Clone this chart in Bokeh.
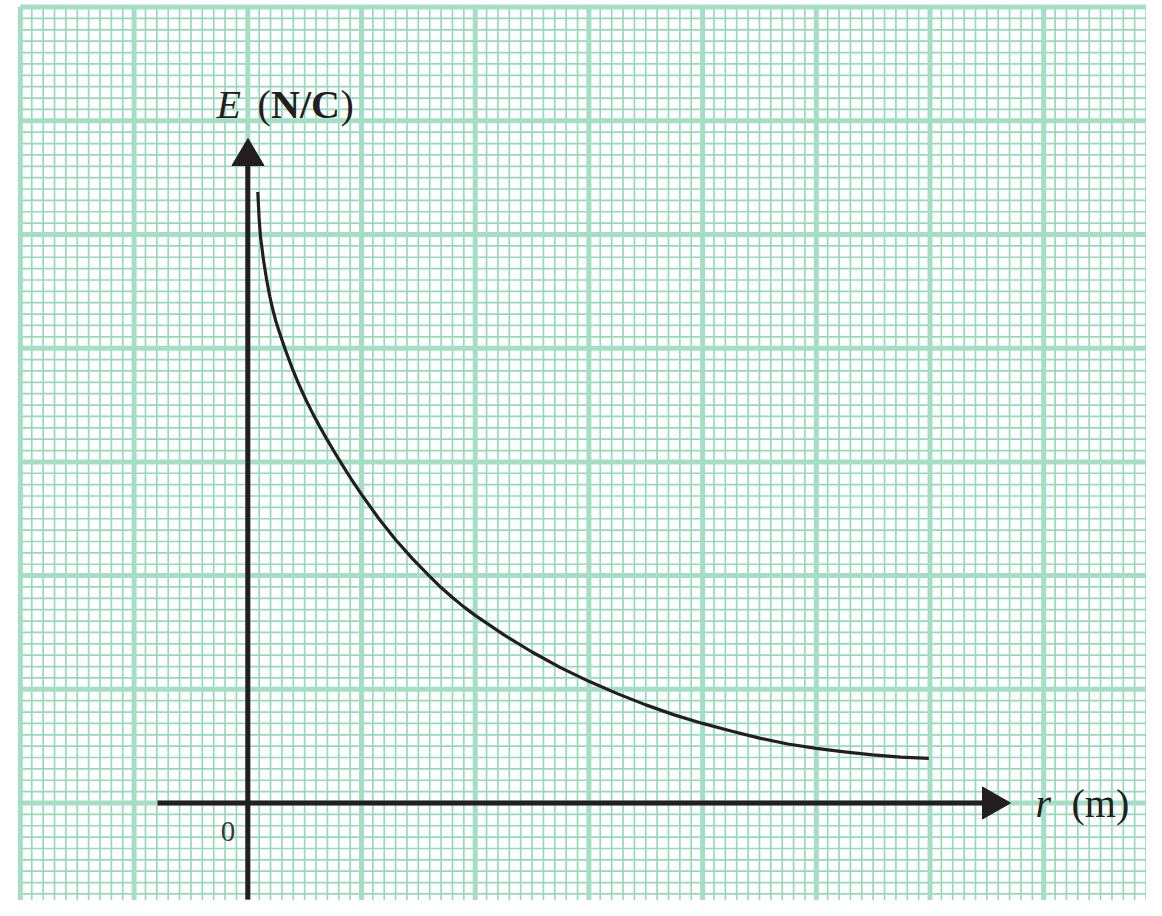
import numpy as np
from bokeh.plotting import figure
from bokeh.models import Range1d, Label
from bokeh.embed import file_html
from bokeh.resources import INLINE

# ---------------- data ----------------
r_m = [0.088, 0.0995, 0.111, 0.138, 0.166, 0.193, 0.2205, 0.247, 0.275, 0.303,
       0.330, 0.391, 0.4525, 0.514, 0.575, 0.636, 0.6975, 0.759, 0.820, 0.910,
       1.000, 1.150, 1.300, 1.450, 1.600, 1.700, 1.800, 1.900, 2.000, 2.250,
       2.500, 2.750, 3.000, 3.250, 3.500, 3.750, 4.000, 4.250, 4.500, 4.750,
       5.000, 5.2475, 5.495, 5.7425, 5.990]
E_nc = [5.374, 5.142, 4.987, 4.775, 4.601, 4.457, 4.338, 4.237, 4.150, 4.065,
        3.986, 3.823, 3.674, 3.540, 3.418, 3.305, 3.196, 3.091, 2.991, 2.849,
        2.714, 2.504, 2.315, 2.147, 1.994, 1.895, 1.807, 1.725, 1.650, 1.481,
        1.328, 1.191, 1.070, 0.962, 0.863, 0.775, 0.700, 0.633, 0.571, 0.519,
        0.480, 0.450, 0.423, 0.403, 0.392]

y_title_var = "E"
y_title_unit = "N/C"
x_title_var = "r"
x_title_unit = "m"
origin_label = "0"

# paper extent (grid units)
paper_x = (-2, 8)
paper_y = (-1, 7)

# ---------------- layout helpers (screen px -> grid units) ----------------
W, H = 1146, 900
PX0, PY0, UNIT = 247.3, 802.5, 113.7


def dx(px):
    return (px - PX0) / UNIT


def dy(py):
    return (PY0 - py) / UNIT


p = figure(width=W, height=H,
           x_range=Range1d(dx(0), dx(W)),
           y_range=Range1d(dy(H), dy(0)),
           output_backend="svg", toolbar_location=None,
           x_axis_location=None, y_axis_location=None,
           min_border=0)
p.grid.visible = False
p.outline_line_color = None
p.background_fill_color = "white"
p.border_fill_color = "white"

# ---------------- graph paper ----------------
minor_col = "#96dabb"
major_col = "#a4dfc5"

xs_all = np.round(np.arange(paper_x[0] * 10, paper_x[1] * 10 + 1) / 10, 3)
ys_all = np.round(np.arange(paper_y[0] * 10, paper_y[1] * 10 + 1) / 10, 3)
xs_minor = [v for v in xs_all if abs(v - round(v)) > 1e-6]
ys_minor = [v for v in ys_all if abs(v - round(v)) > 1e-6]
xs_major = [v for v in xs_all if abs(v - round(v)) <= 1e-6]
ys_major = [v for v in ys_all if abs(v - round(v)) <= 1e-6]

p.segment(x0=xs_minor, x1=xs_minor, y0=[paper_y[0]] * len(xs_minor), y1=[paper_y[1]] * len(xs_minor),
          line_color=minor_col, line_width=1.7)
p.segment(x0=[paper_x[0]] * len(ys_minor), x1=[paper_x[1]] * len(ys_minor), y0=ys_minor, y1=ys_minor,
          line_color=minor_col, line_width=1.7)
p.segment(x0=xs_major, x1=xs_major, y0=[paper_y[0]] * len(xs_major), y1=[paper_y[1]] * len(xs_major),
          line_color=major_col, line_width=5)
p.segment(x0=[paper_x[0]] * len(ys_major), x1=[paper_x[1]] * len(ys_major), y0=ys_major, y1=ys_major,
          line_color=major_col, line_width=5)

# ---------------- axes with arrows ----------------
ink = "#231f20"
p.line([0, 0], [dy(899), dy(163)], line_color=ink, line_width=5)
p.patch([dx(231.5), dx(247.5), dx(263.5)], [dy(165), dy(138), dy(165)],
        fill_color=ink, line_color=ink, line_width=1)
p.line([dx(157), dx(984)], [0, 0], line_color=ink, line_width=5)
p.patch([dx(982), dx(1010), dx(982)], [dy(786.5), dy(802.5), dy(818.5)],
        fill_color=ink, line_color=ink, line_width=1)

# ---------------- curve ----------------
p.line(r_m, E_nc, line_color=ink, line_width=3.2, line_join="round", line_cap="butt")

# ---------------- labels ----------------
serif = "Liberation Serif"
fs = "40px"
ty = 104      # baseline of the E (N/C) title
tx = 803      # baseline of the r (m) title
p.add_layout(Label(x=dx(216), y=dy(ty), text=y_title_var, text_font=serif, text_font_style="italic",
                   text_font_size=fs, text_color=ink, text_baseline="alphabetic", text_align="left"))
p.add_layout(Label(x=dx(257), y=dy(ty), text="(", text_font=serif, text_font_size=fs,
                   text_color=ink, text_baseline="alphabetic", text_align="left"))
p.add_layout(Label(x=dx(270.5), y=dy(ty), text=y_title_unit, text_font=serif, text_font_style="bold",
                   text_font_size=fs, text_color=ink, text_baseline="alphabetic", text_align="left"))
p.add_layout(Label(x=dx(340), y=dy(ty), text=")", text_font=serif, text_font_size=fs,
                   text_color=ink, text_baseline="alphabetic", text_align="left"))

p.add_layout(Label(x=dx(1035), y=dy(tx), text=x_title_var, text_font=serif, text_font_style="italic",
                   text_font_size=fs, text_color=ink, text_baseline="alphabetic", text_align="left"))
p.add_layout(Label(x=dx(1071), y=dy(tx), text="(" + x_title_unit + ")", text_font=serif,
                   text_font_size=fs, text_color=ink, text_baseline="alphabetic", text_align="left"))

p.add_layout(Label(x=dx(227.5), y=dy(831), text=origin_label, text_font=serif, text_font_size="29px",
                   text_color="#3a3a3a", text_baseline="alphabetic", text_align="center"))

open("out.html", "w").write(file_html(p, INLINE))
